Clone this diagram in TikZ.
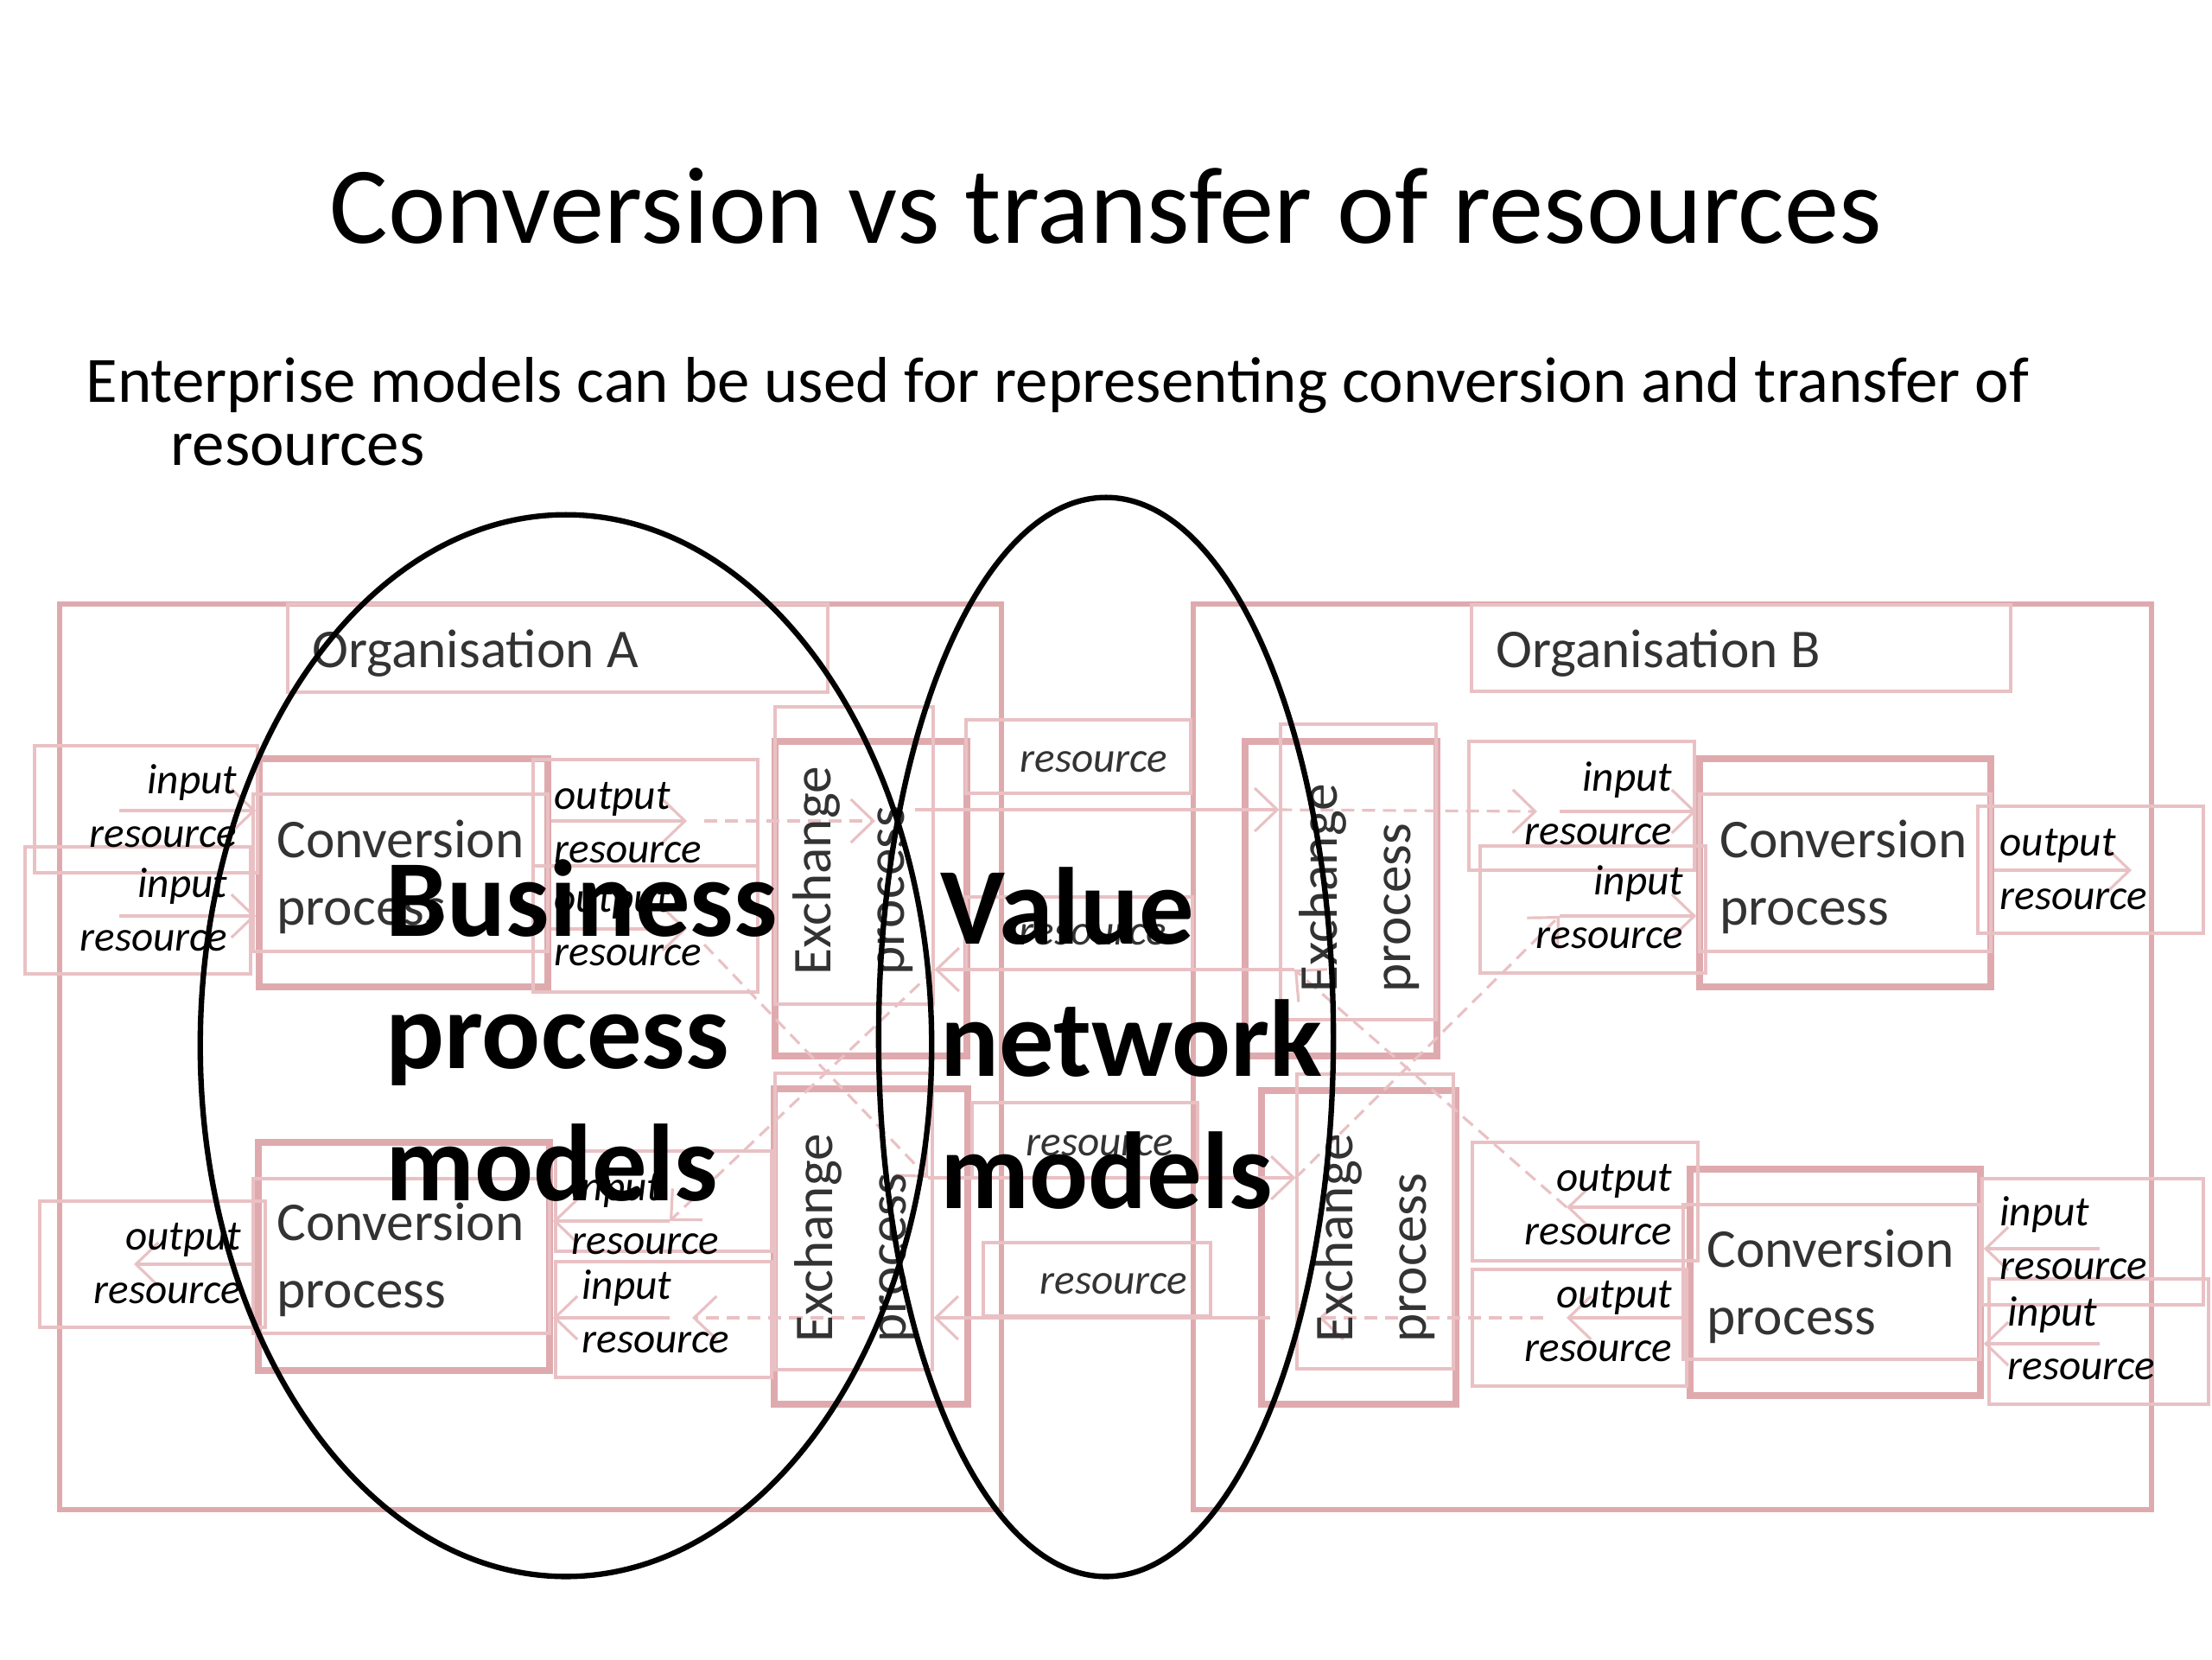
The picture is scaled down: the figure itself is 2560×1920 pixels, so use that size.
\documentclass[tikz,border=0pt]{standalone}
\usepackage{fontspec}
\setmainfont{Carlito}
\usetikzlibrary{arrows.meta, positioning, shapes.geometric, fit}
\definecolor{cpink}{HTML}{E9C1C4}
\definecolor{cpinkdk}{HTML}{DFAAAE}
\definecolor{cgrey}{HTML}{333333}
\tikzset{
  every picture/.style={line width=0.9pt},
  orgbox/.style={draw=cpinkdk, line width=1.8pt, inner sep=0pt, fit={#1}},
  procbox/.style={draw=cpinkdk, line width=2.2pt, inner sep=0pt, fit={#1}},
  thinbox/.style={draw=cpink, line width=0.9pt, inner sep=0pt, fit={#1}},
  flow/.style={draw=cpink, line width=0.9pt, -{Straight Barb[length=2.6mm, width=5mm]}},
  dflow/.style={flow, dash pattern=on 1.5mm off 0.9mm},
  reslbl/.style={font=\fontsize{14}{17.5}\selectfont\itshape, inner sep=0pt},
  rlbl/.style={reslbl, anchor=base east, align=right},
  llbl/.style={reslbl, anchor=base west, align=left},
  midlbl/.style={reslbl, text=cgrey, anchor=base},
  proclbl/.style={font=\fontsize{18}{22}\selectfont, text=cgrey, inner sep=0pt, align=left, anchor=base west},
  exlbl/.style={proclbl, font=\fontsize{18}{24}\selectfont, rotate=90},
  biglbl/.style={font=\fontsize{36}{43.5}\selectfont\bfseries, inner sep=0pt, align=left, anchor=base west},
  oval/.style={ellipse, draw=black, line width=1.8pt, inner sep=0pt},
}

\begin{document}
\begin{tikzpicture}[x=0.01cm, y=-0.01cm]
  \useasboundingbox (0,0) rectangle (2560,1920);

  % title and intro
  \node[font=\fontsize{36}{40}\selectfont, inner sep=0pt, anchor=base] (title) at (1280,281) {Conversion vs transfer of resources};
  \node[font=\fontsize{21.3}{20.5}\selectfont, inner sep=0pt, align=left, anchor=base west] (intro) at (98,538)
    {Enterprise models can be used for representing conversion and transfer of\\\hspace*{0.98cm}resources};

  % organisations
  \node[orgbox={(69,699) (1159,1747)}] (orgA) {};
  \node[orgbox={(1381,699) (2490,1747)}] (orgB) {};
  \node[thinbox={(333,699) (958,801)}] (labA) {};
  \node[thinbox={(1703,700) (2327,800)}] (labB) {};

  % conversion processes
  \node[procbox={(300,878) (634,1142)}] (cA1) {};
  \node[thinbox={(293,919) (634,1101)}] (cA1i) {};
  \node[procbox={(1967,878) (2304,1142)}] (cB1) {};
  \node[thinbox={(1967,919) (2304,1101)}] (cB1i) {};
  \node[procbox={(299,1322) (636,1586)}] (cA2) {};
  \node[thinbox={(293,1364) (636,1543)}] (cA2i) {};
  \node[procbox={(1956,1353) (2292,1615)}] (cB2) {};
  \node[thinbox={(1948,1394) (2292,1573)}] (cB2i) {};

  % exchange processes
  \node[procbox={(897,858) (1119,1222)}] (xAt) {};
  \node[thinbox={(897,818) (1080,1162)}] (xAt2) {};
  \node[procbox={(1441,858) (1663,1222)}] (xBt) {};
  \node[thinbox={(1482,838) (1662,1180)}] (xBt2) {};
  \node[procbox={(896,1260) (1120,1625)}] (xAb) {};
  \node[thinbox={(897,1242) (1079,1585)}] (xAb2) {};
  \node[procbox={(1460,1262) (1685,1625)}] (xBb) {};
  \node[thinbox={(1501,1243) (1682,1584)}] (xBb2) {};

  % resource boxes
  \node[thinbox={(40,863) (298,1010)}] (inA1) {};
  \node[thinbox={(29,980) (290,1127)}] (inA2) {};
  \node[thinbox={(617,879) (877,1002)}] (outA1) {};
  \node[thinbox={(617,1002) (877,1148)}] (outA2) {};
  \node[thinbox={(1700,858) (1961,1007)}] (inB1) {};
  \node[thinbox={(1713,979) (1974,1126)}] (inB2) {};
  \node[thinbox={(2289,933) (2550,1080)}] (outB1) {};
  \node[thinbox={(1118,833) (1378,918)}] (res1) {};
  \node[thinbox={(1118,1038) (1380,1122)}] (res2) {};
  \node[thinbox={(46,1390) (307,1536)}] (outA3) {};
  \node[thinbox={(643,1332) (893,1448)}] (inA3) {};
  \node[thinbox={(643,1460) (893,1594)}] (inA4) {};
  \node[thinbox={(1125,1276) (1386,1363)}] (res3) {};
  \node[thinbox={(1138,1438) (1401,1523)}] (res4) {};
  \node[thinbox={(1704,1322) (1965,1459)}] (outB3) {};
  \node[thinbox={(1704,1469) (1952,1604)}] (outB4) {};
  \node[thinbox={(2294,1364) (2550,1510)}] (inB3) {};
  \node[thinbox={(2302,1480) (2556,1625)}] (inB4) {};

  % flow ends
  \coordinate (pA1) at (138,938);
  \coordinate (pA2) at (138,1060);
  \coordinate (qA1) at (795,950);
  \coordinate (qA2) at (795,1075);
  \coordinate (xA1) at (1013,950);
  \coordinate (mA1) at (1059,937);
  \coordinate (pB1) at (1805,939);
  \coordinate (pB2) at (1805,1060);
  \coordinate (qB1) at (2467,1007);
  \coordinate (mB2) at (1498,1122);
  \coordinate (mA3) at (1074,1363);
  \coordinate (qA3) at (155,1463);
  \coordinate (pA3) at (775,1413);
  \coordinate (pA4) at (775,1525);
  \coordinate (mB4) at (1470,1525);
  \coordinate (qB3) at (1813,1397);
  \coordinate (qB4) at (1813,1525);
  \coordinate (pB3) at (2430,1445);
  \coordinate (pB4) at (2430,1555);

  % top flows
  \draw[flow] (pA1) -- (pA1 -| cA1.west);
  \draw[flow] (pA2) -- (pA2 -| cA1.west);
  \draw[flow] (qA1 -| cA1.east) -- (qA1);
  \draw[flow] (qA2 -| cA1.east) -- (qA2);
  \draw[dflow] ([xshift=2mm]qA1) -- (xA1);
  \draw[flow] (mA1) -- (mA1 -| xBt2.west);
  \draw[dflow] (mA1 -| xBt2.west) -- ([xshift=-2.6mm]pB1);
  \draw[flow] (pB1) -- (pB1 -| cB1.west);
  \draw[flow] (pB2) -- (pB2 -| cB1.west);
  \draw[flow] (qB1 -| cB1.east) -- (qB1);

  % crossing flows
  \draw[dflow] ([shift={(20,18)}]qA2) -- (mA3);
  \draw[flow] (mA3) -- (mA3 -| xBb2.west);
  \draw[dflow] (mA3 -| xBb2.west) -- (pB2);
  \draw[flow] (qB3 -| cB2.west) -- (qB3);
  \draw[dflow] (qB3) -- (mB2);
  \draw[flow] (mB2) -- (mB2 -| xAt2.east);
  \draw[dflow] (mB2 -| xAt2.east) -- (pA3);

  % bottom flows
  \draw[flow] (pA3) -- (pA3 -| cA2.east);
  \draw[flow] (pA4) -- (pA4 -| cA2.east);
  \draw[flow] (qA3 -| cA2.west) -- (qA3);
  \draw[flow] (qB4 -| cB2.west) -- (qB4);
  \draw[dflow] ([xshift=-2.7mm]qB4) -- ([xshift=2.7mm]qB4 -| xBb2.west);
  \draw[flow] (mB4) -- (mB4 -| xAb2.east);
  \draw[dflow] ([xshift=-8mm]mB4 -| xAb2.east) -- ([xshift=2.6mm]pA4);
  \draw[flow] (pB3) -- (pB3 -| cB2.east);
  \draw[flow] (pB4) -- (pB4 -| cB2.east);

  % labels (anchored on the baseline of their last line)
  \node[proclbl] (orgAl) at (360,772) {Organisation A};
  \node[proclbl] (orgBl) at (1730,772) {Organisation B};
  \node[proclbl] (cA1l) at (319,1070) {Conversion\\process};
  \node[proclbl] (cB1l) at (1989,1070) {Conversion\\process};
  \node[proclbl] (cA2l) at (319,1513) {Conversion\\process};
  \node[proclbl] (cB2l) at (1974,1544) {Conversion\\process};
  \node[exlbl] (xAtl) at (1046,1130) {Exchange\\process};
  \node[exlbl] (xBtl) at (1632,1150) {Exchange\\process};
  \node[exlbl] (xAbl) at (1048,1555) {Exchange\\process};
  \node[exlbl] (xBbl) at (1650,1555) {Exchange\\process};

  \node[rlbl] (inA1l) at (276,980) {input\\resource};
  \node[rlbl] (inA2l) at (265,1100) {input\\resource};
  \node[llbl] (outA1l) at (640,998) {output\\resource};
  \node[llbl] (outA2l) at (640,1117) {output\\resource};
  \node[rlbl] (inB1l) at (1937,977) {input\\resource};
  \node[rlbl] (inB2l) at (1950,1097) {input\\resource};
  \node[llbl] (outB1l) at (2313,1052) {output\\resource};
  \node[rlbl] (outA3l) at (281,1508) {output\\resource};
  \node[llbl] (inA3l) at (660,1451) {input\\resource};
  \node[llbl] (inA4l) at (672,1565) {input\\resource};
  \node[rlbl] (outB3l) at (1937,1440) {output\\resource};
  \node[rlbl] (outB4l) at (1937,1575) {output\\resource};
  \node[llbl] (inB3l) at (2313,1480) {input\\resource};
  \node[llbl] (inB4l) at (2322,1596) {input\\resource};
  \node[midlbl] (res1l) at (1266,893) {resource};
  \node[midlbl] (res2l) at (1265,1093) {resource};
  \node[midlbl] (res3l) at (1273,1337) {resource};
  \node[midlbl] (res4l) at (1289,1497) {resource};

  % model families
  \node[biglbl] (bpl) at (445,1389) {Business\\process\\models};
  \node[biglbl] (vnl) at (1087,1398) {Value\\network\\models};
  \node[oval, minimum width=8.46cm, minimum height=12.28cm] (bpm) at (655,1210) {};
  \node[oval, minimum width=5.26cm, minimum height=12.48cm] (vnm) at (1280,1200) {};
\end{tikzpicture}
\end{document}
